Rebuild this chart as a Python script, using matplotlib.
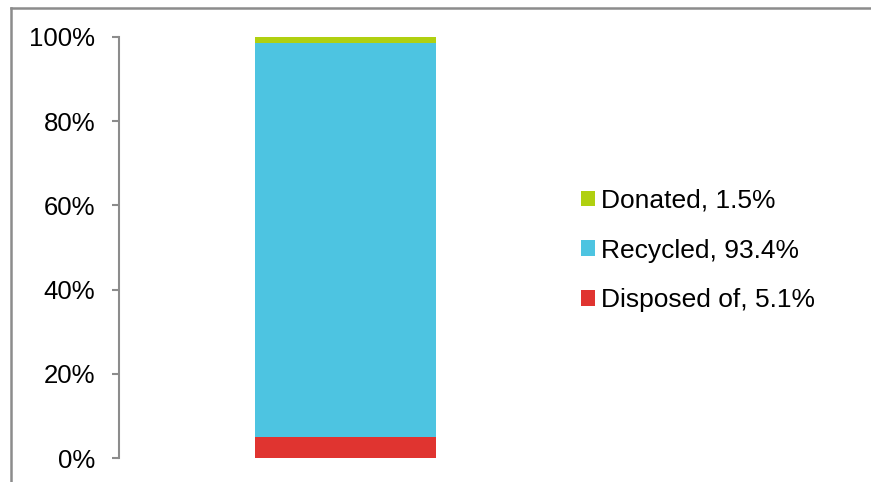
import matplotlib
matplotlib.use("Agg")
import matplotlib.pyplot as plt
from matplotlib.patches import Patch
from matplotlib.lines import Line2D
from matplotlib.ticker import FuncFormatter

plt.rcParams['font.family'] = ['Liberation Sans', 'DejaVu Sans']

categories = [""]
series_names = ["Disposed of", "Recycled", "Donated"]
series_values = [[5.1], [93.4], [1.5]]
series_colors = ["#E03430", "#4DC4E1", "#B0D010"]
yticks = [0, 20, 40, 60, 80, 100]

W, H = 871, 482
fig = plt.figure(figsize=(W / 100, H / 100), dpi=100)
ax = fig.add_axes([119 / W, 1 - 458 / H, (572 - 119) / W, (458 - 37) / H])

x = list(range(len(categories)))
bottom = [0.0] * len(categories)
handles = []
for name, vals, col in zip(series_names, series_values, series_colors):
    ax.bar(x, vals, width=0.4, bottom=bottom, color=col, linewidth=0)
    bottom = [b + v for b, v in zip(bottom, vals)]
    handles.append(Patch(facecolor=col, edgecolor='none'))

ax.set_xlim(-0.5, 0.5)
ax.set_ylim(0, 100)
ax.set_yticks(yticks)
ax.yaxis.set_major_formatter(FuncFormatter(lambda v, p: f"{int(v)}%"))
ax.set_xticks([])
for s in ['top', 'right', 'bottom']:
    ax.spines[s].set_visible(False)
ax.spines['left'].set_color('#8C8C8C')
ax.spines['left'].set_linewidth(1.5)
ax.tick_params(axis='y', direction='out', length=5, width=1.5, color='#8C8C8C',
               labelsize=18.5, pad=12, labelcolor='black')

labels = [f"{n}, {v[0]}%" for n, v in zip(series_names, series_values)]
fig.legend(handles[::-1], labels[::-1], loc='center left',
           bbox_to_anchor=(581 / W, 1 - 250.5 / H), frameon=False,
           fontsize=19, handlelength=0.53, handleheight=0.53,
           handletextpad=0.22, labelspacing=0.97, borderpad=0, borderaxespad=0)

# outer chart border
fig.add_artist(Line2D([11 / W, 1], [1 - 7.5 / H, 1 - 7.5 / H], transform=fig.transFigure,
                      color='#8C8C8C', linewidth=1.8))
fig.add_artist(Line2D([11 / W, 11 / W], [0, 1 - 7.5 / H], transform=fig.transFigure,
                      color='#8C8C8C', linewidth=1.8))

fig.savefig("out.png", dpi=100)
